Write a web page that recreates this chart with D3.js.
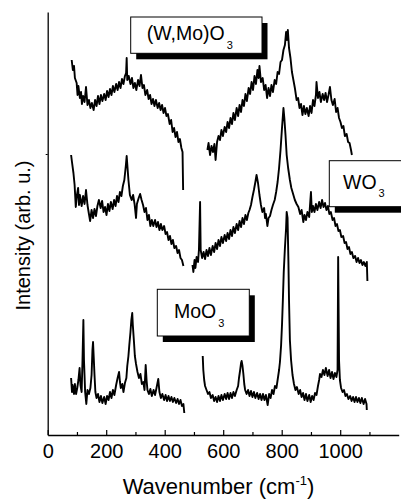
<!DOCTYPE html>
<html><head><meta charset="utf-8">
<script src="https://cdn.jsdelivr.net/npm/d3@7"></script>
<style>html,body{margin:0;padding:0;background:#fff;} svg{display:block;}</style>
</head><body>
<svg id="chart" width="401" height="499"></svg>
<script>
// ---- data (wavenumber cm^-1, intensity arb. u.) ----
const xMajorTicks = [0, 200, 400, 600, 800, 1000];
const xMinorTicks = [100, 300, 500, 700, 900, 1100];
const xTickLabels = ["0", "200", "400", "600", "800", "1000"];
const yTicks = [281];
const seriesNames = ["(W,Mo)O", "WO", "MoO"];
const seriesSub = ["3", "3", "3"];

const wmoLow = [[82,375],[86,365],[90,369],[93,357],[99,352],[102,340],[105,349],[110,337],[114,343],[117,331],[121,339],[126,333],[131,348],[136,330],[141,335],[146,327],[151,332],[157,325],[162,335],[167,329],[172,339],[177,331],[182,340],[187,334],[193,341],[198,335],[203,344],[208,338],[213,346],[218,340],[223,349],[228,343],[234,351],[239,345],[244,353],[249,347],[254,356],[259,351],[264,359],[268,362],[270,377],[272,355],[277,359],[283,351],[288,357],[293,347],[298,352],[303,345],[309,355],[314,349],[319,360],[324,347],[329,350],[334,340],[340,345],[345,336],[350,340],[355,331],[360,336],[365,329],[370,335],[376,327],[381,332],[386,325],[391,330],[396,322],[401,327],[406,319],[411,321],[417,311],[422,315],[427,303],[432,307],[437,298],[442,303],[447,293],[452,296],[457,287],[461,283],[463,245]];
const wmoHigh = [[546,285],[550,292],[555,280],[560,289],[565,283],[570,291],[574,275],[579,293],[584,299],[589,295],[594,305],[599,299],[605,308],[610,303],[615,313],[620,307],[625,317],[630,311],[635,322],[640,315],[646,327],[651,319],[656,330],[661,323],[666,335],[671,329],[676,341],[681,334],[687,347],[692,341],[697,353],[702,345],[707,359],[712,351],[717,365],[721,357],[724,369],[729,353],[735,357],[740,345],[745,350],[750,337],[755,347],[760,339],[765,350],[770,343],[776,355],[781,351],[786,363],[791,361],[796,373],[801,375],[806,385],[811,390],[815,403],[818,395],[821,405],[825,387],[830,377],[835,363],[840,355],[845,347],[851,335],[856,337],[861,327],[866,331],[871,320],[876,329],[881,321],[886,327],[892,319],[897,329],[902,322],[907,335],[912,329],[917,340],[919,353],[924,337],[929,343],[934,333],[940,341],[945,335],[950,342],[955,333],[960,340],[965,348],[970,335],[975,330],[981,336],[986,323],[991,327],[996,317],[1001,313],[1006,307],[1011,309],[1016,299],[1022,301],[1027,293],[1032,292],[1037,285],[1040,280]];

const wo3Low = [[80,280],[83,273],[88,262],[92,250],[96,228],[100,240],[104,247],[107,230],[110,240],[116,229],[121,239],[126,231],[131,245],[136,230],[141,221],[145,214],[150,225],[155,217],[160,226],[165,219],[170,229],[175,235],[181,227],[186,234],[191,223],[196,228],[201,220],[206,231],[211,224],[216,233],[222,226],[227,235],[232,229],[237,239],[242,233],[247,243],[252,239],[257,249],[262,255],[267,269],[270,279],[273,267],[276,255],[281,240],[287,235],[292,240],[297,231],[302,217],[305,231],[311,237],[316,241],[321,235],[326,230],[331,223],[336,227],[341,215],[346,220],[351,209],[356,215],[361,209],[367,215],[372,208],[377,213],[382,205],[387,211],[392,205],[398,209],[403,201],[408,203],[413,195],[418,199],[423,191],[428,195],[433,187],[439,189],[444,182],[449,185],[454,177],[459,175],[464,169]];
const wo3High = [[495,170],[498,163],[502,175],[505,167],[509,178],[514,173],[517,185],[521,233],[523,185],[528,177],[533,183],[538,176],[543,185],[548,179],[553,187],[558,180],[564,189],[569,183],[574,192],[579,186],[584,195],[589,189],[594,198],[599,192],[605,200],[610,194],[615,202],[620,196],[625,205],[630,199],[635,208],[640,202],[646,211],[651,205],[656,214],[661,208],[666,217],[671,211],[676,220],[681,215],[686,222],[690,225],[695,230],[700,238],[705,245],[710,253],[714,260],[719,252],[724,240],[729,230],[734,223],[740,227],[743,217],[746,221],[751,209],[755,217],[760,219],[765,225],[770,230],[776,235],[781,243],[786,253],[791,267],[796,285],[801,307],[806,327],[809,317],[813,300],[817,280],[822,267],[828,255],[833,247],[840,240],[845,235],[851,231],[857,228],[863,221],[868,225],[874,213],[878,220],[883,215],[888,223],[894,218],[900,243],[903,223],[907,229],[912,223],[917,231],[922,225],[928,233],[933,227],[938,235],[943,228],[948,232],[953,225],[958,229],[963,221],[968,223],[974,215],[979,217],[984,209],[989,211],[994,204],[999,205],[1004,198],[1010,199],[1015,192],[1020,193],[1025,186],[1030,188],[1035,181],[1040,183],[1045,177],[1051,179],[1056,173],[1061,177],[1066,172],[1071,175],[1076,170],[1081,173],[1086,169],[1091,173],[1093,154]];

const moo3Low = [[80,57],[83,43],[85,50],[90,41],[93,51],[97,41],[101,47],[105,55],[109,67],[112,50],[116,43],[119,75],[122,115],[124,75],[128,43],[132,31],[136,45],[141,41],[146,47],[150,60],[153,85],[155,93],[157,80],[160,60],[163,43],[167,37],[172,41],[177,33],[182,39],[187,32],[193,38],[198,31],[203,39],[208,35],[213,43],[218,37],[223,45],[228,40],[234,50],[239,57],[244,63],[247,53],[250,47],[255,51],[259,43],[264,52],[269,57],[272,69],[276,79],[279,90],[283,103],[286,115],[289,122],[291,110],[295,93],[298,79],[302,71],[307,63],[312,57],[317,61],[322,51],[327,53],[331,45],[335,70],[338,55],[341,45],[346,41],[351,46],[356,39],[362,45],[367,40],[372,47],[378,56],[382,43],[387,37],[392,41],[398,35],[403,40],[408,34],[413,39],[418,34],[423,38],[428,33],[433,37],[439,32],[444,36],[449,31],[454,35],[459,29],[464,31],[467,22]];
const moo3High = [[530,79],[532,65],[535,55],[538,49],[543,45],[548,41],[553,43],[558,37],[564,40],[569,34],[574,38],[579,33],[584,39],[589,34],[594,40],[599,35],[605,41],[610,36],[615,42],[620,36],[625,42],[630,37],[635,43],[640,39],[646,45],[651,49],[654,57],[658,65],[661,72],[663,74],[666,69],[669,61],[672,51],[675,45],[680,41],[685,45],[690,39],[695,44],[700,38],[705,43],[710,37],[716,42],[721,36],[726,41],[731,35],[736,41],[741,35],[746,40],[752,30],[757,41],[762,37],[767,45],[772,41],[777,49],[782,47],[787,57],[791,65],[794,73],[798,90],[801,110],[804,135],[807,163],[811,187],[815,207],[817,223],[820,217],[823,173],[825,135],[828,95],[832,75],[837,60],[842,51],[847,45],[852,48],[858,41],[863,45],[868,38],[873,42],[878,35],[883,41],[888,34],[894,40],[899,33],[904,39],[909,35],[914,42],[919,40],[924,49],[928,55],[931,61],[936,58],[941,65],[946,60],[951,67],[957,59],[962,65],[967,57],[972,63],[977,56],[982,62],[987,58],[991,65],[993,178],[996,75],[999,55],[1003,47],[1008,43],[1013,45],[1018,39],[1023,41],[1028,36],[1034,39],[1039,34],[1044,38],[1049,33],[1054,38],[1059,33],[1064,37],[1069,32],[1074,37],[1080,31],[1085,36],[1090,31],[1091,25]];

// ---- drawing ----
const FONT = "'Liberation Sans', Arial, Helvetica, sans-serif";
const svg = d3.select("#chart");
const x = d3.scaleLinear().domain([0, 1200]).range([47.7, 398.7]);
const y = d3.scaleLinear().domain([0, 423]).range([435, 12]);

const line = d3.line().x(d => x(d[0])).y(d => y(d[1]));
const segments = [wmoLow, wmoHigh, wo3Low, wo3High, moo3Low, moo3High];
svg.append("g").selectAll("path").data(segments).join("path")
  .attr("d", line)
  .attr("fill", "none").attr("stroke", "#000")
  .attr("stroke-width", 1.9).attr("stroke-linejoin", "round");

// x axis
const xAxis = svg.append("g").attr("transform", `translate(0,${y(0)})`)
  .call(d3.axisBottom(x).tickValues(xMajorTicks).tickSize(-5).tickSizeOuter(0)
    .tickPadding(9).tickFormat((d, i) => xTickLabels[i]));
xAxis.select(".domain").attr("stroke", "#000").attr("stroke-width", 1.3);
xAxis.selectAll(".tick line").attr("stroke", "#000").attr("stroke-width", 1.2);
xAxis.selectAll(".tick text").attr("font-family", FONT).attr("font-size", 20).attr("fill", "#000");

const xMinor = svg.append("g").attr("transform", `translate(0,${y(0)})`)
  .call(d3.axisBottom(x).tickValues(xMinorTicks).tickSize(-3).tickFormat(""));
xMinor.select(".domain").remove();
xMinor.selectAll(".tick line").attr("stroke", "#000").attr("stroke-width", 1.2);

// y axis
const yAxis = svg.append("g").attr("transform", `translate(${x(0)},0)`)
  .call(d3.axisLeft(y).tickValues(yTicks).tickSize(2).tickSizeOuter(0).tickFormat(""));
yAxis.select(".domain").attr("stroke", "#000").attr("stroke-width", 1.3);
yAxis.selectAll(".tick line").attr("stroke", "#000").attr("stroke-width", 1);

// axis titles
const xt = svg.append("text").attr("x", 218.5).attr("y", 494)
  .attr("text-anchor", "middle").attr("font-family", FONT).attr("font-size", 22);
xt.append("tspan").text("Wavenumber (cm");
xt.append("tspan").attr("font-size", 13).attr("dy", -9).text("-1");
xt.append("tspan").attr("dy", 9).text(")");

svg.append("text").attr("transform", "translate(30,235.5) rotate(-90)")
  .attr("text-anchor", "middle").attr("font-family", FONT).attr("font-size", 20)
  .text("Intensity (arb. u.)");

// label boxes
const boxes = [
  {x: 130.7, y: 17, w: 131.3, h: 36.3, tx: 146.7, ty: 40, sy: 49},
  {x: 329.3, y: 160.7, w: 90, h: 46, tx: 343, ty: 188.5, sy: 197},
  {x: 157.3, y: 289.3, w: 92, h: 46.7, tx: 174, ty: 318, sy: 327}
];
boxes.forEach((b, i) => {
  const g = svg.append("g");
  g.append("rect").attr("x", b.x + 5.5).attr("y", b.y + 6).attr("width", b.w).attr("height", b.h).attr("fill", "#000");
  g.append("rect").attr("x", b.x).attr("y", b.y).attr("width", b.w).attr("height", b.h)
    .attr("fill", "#fff").attr("stroke", "#000").attr("stroke-width", 1);
  const t = g.append("text").attr("x", b.tx).attr("y", b.ty).attr("font-family", FONT).attr("font-size", 19.5);
  t.append("tspan").text(seriesNames[i]);
  t.append("tspan").attr("font-size", 11).attr("dy", b.sy - b.ty).attr("dx", 2).text(seriesSub[i]);
});
</script>
</body></html>
